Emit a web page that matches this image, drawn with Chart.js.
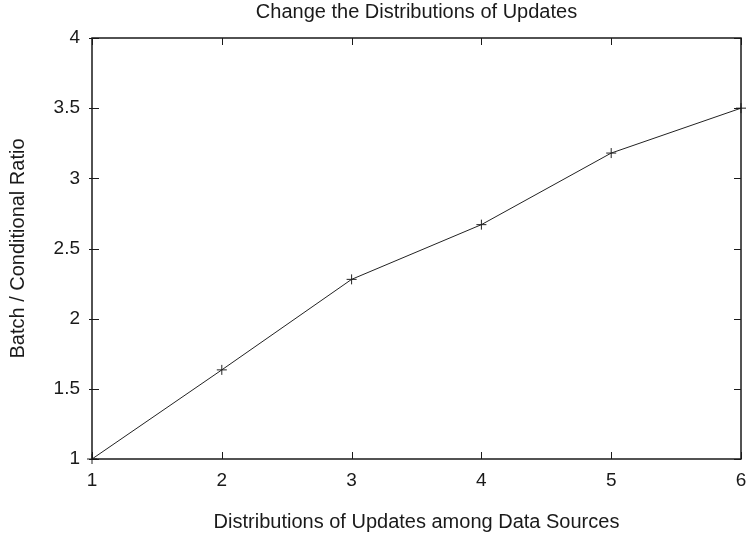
<!DOCTYPE html>
<html>
<head>
<meta charset="utf-8">
<script src="https://cdn.jsdelivr.net/npm/chart.js@4/dist/chart.umd.min.js"></script>
<style>
  html, body { margin: 0; padding: 0; background: #ffffff; }
  #wrap { width: 747px; height: 540px; position: relative; }
</style>
</head>
<body>
<div id="wrap"><canvas id="chart"></canvas></div>
<script>
// Number of data sources the updates are spread over
const sourceCounts = [1, 2, 3, 4, 5, 6];
// Batch / conditional cost ratio measured for each distribution
const ratios = [1.00, 1.635, 2.28, 2.67, 3.18, 3.50];
// Axis tick values
const xTicks = [1, 2, 3, 4, 5, 6];
const yTicks = [1, 1.5, 2, 2.5, 3, 3.5, 4];

const FONT = '"Liberation Sans", Arial, Helvetica, sans-serif';
const INK = '#1a1a1a';

// Frame plus inward-pointing tick marks on all four sides
const frameTicks = {
  id: 'frameTicks',
  afterDatasetsDraw(chart) {
    const { ctx, chartArea: a, scales: { x, y } } = chart;
    const len = 7;
    ctx.save();
    ctx.strokeStyle = INK;
    ctx.lineWidth = 1;
    ctx.beginPath();
    x.ticks.forEach(t => {
      const px = Math.round(x.getPixelForValue(t.value)) + 0.5;
      ctx.moveTo(px, a.bottom); ctx.lineTo(px, a.bottom - len);
      ctx.moveTo(px, a.top); ctx.lineTo(px, a.top + len);
    });
    y.ticks.forEach(t => {
      const py = Math.round(y.getPixelForValue(t.value)) + 0.5;
      ctx.moveTo(a.left, py); ctx.lineTo(a.left + len, py);
      ctx.moveTo(a.right, py); ctx.lineTo(a.right - len, py);
      ctx.moveTo(a.left, py); ctx.lineTo(a.left - 3, py);
    });
    ctx.stroke();
    ctx.lineWidth = 1.5;
    ctx.strokeRect(a.left, a.top, a.right - a.left, a.bottom - a.top);
    ctx.restore();
  }
};

new Chart(document.getElementById('chart'), {
  type: 'line',
  data: {
    datasets: [{
      data: sourceCounts.map((v, i) => ({ x: v, y: ratios[i] })),
      borderColor: '#222222',
      borderWidth: 1,
      tension: 0,
      fill: false,
      pointStyle: 'cross',
      pointRadius: 5,
      pointBorderWidth: 1,
      pointBorderColor: '#222222',
      clip: false
    }]
  },
  options: {
    responsive: true,
    maintainAspectRatio: false,
    animation: false,
    layout: { padding: { left: 0, right: 4, top: 0, bottom: 0 } },
    plugins: {
      legend: { display: false },
      tooltip: { enabled: false },
      title: {
        display: true,
        text: 'Change the Distributions of Updates',
        color: INK,
        fullSize: false,
        font: { family: FONT, size: 20, weight: 'normal' },
        padding: { top: 0, bottom: 14 }
      }
    },
    scales: {
      x: {
        type: 'linear',
        min: 1, max: 6,
        afterBuildTicks: s => { s.ticks = xTicks.map(v => ({ value: v })); },
        afterFit: s => { s.height = 81; s.paddingLeft = 0; s.paddingRight = 0; },
        grid: { display: false, drawTicks: false },
        border: { display: false },
        ticks: { color: INK, padding: 10, maxRotation: 0, font: { family: FONT, size: 19 } },
        title: {
          display: true,
          text: 'Distributions of Updates among Data Sources',
          color: INK,
          font: { family: FONT, size: 20 },
          padding: { top: 0, bottom: 6 }
        }
      },
      y: {
        type: 'linear',
        min: 1, max: 4,
        afterBuildTicks: s => { s.ticks = yTicks.map(v => ({ value: v })); },
        afterFit: s => { s.width = 92; s.paddingTop = 0; s.paddingBottom = 0; },
        grid: { display: false, drawTicks: false },
        border: { display: false },
        ticks: { color: INK, padding: 12, font: { family: FONT, size: 19 }, callback: v => String(v) },
        title: {
          display: true,
          text: 'Batch / Conditional Ratio',
          color: INK,
          font: { family: FONT, size: 20 },
          padding: { top: 6, bottom: 0 }
        }
      }
    }
  },
  plugins: [frameTicks]
});
</script>
</body>
</html>
